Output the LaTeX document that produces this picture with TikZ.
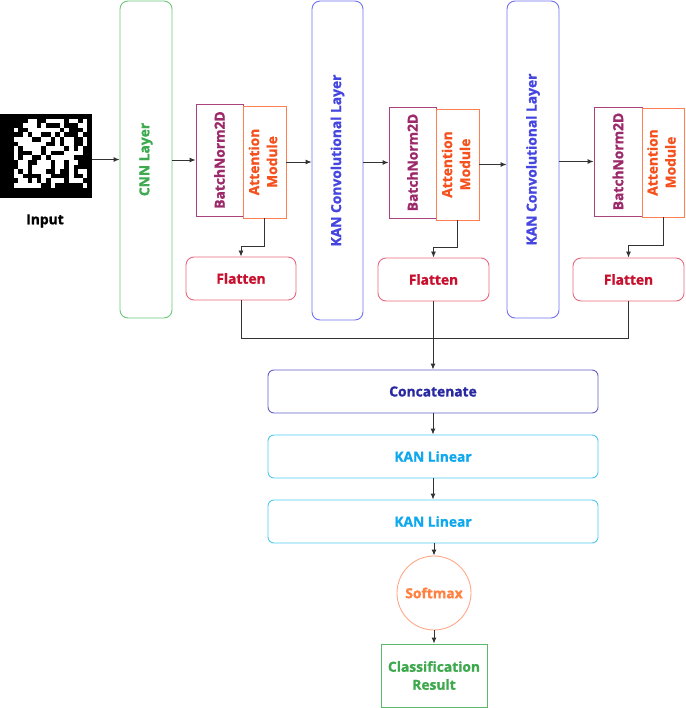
\documentclass[tikz,border=0pt]{standalone}
\usepackage{fontspec}
\setmainfont{Open Sans}[BoldFeatures={FakeBold=1.2}]
\usetikzlibrary{arrows.meta}
\definecolor{cnnB}{HTML}{6CC77A}\definecolor{cnnT}{HTML}{3DAA4F}
\definecolor{bnB}{HTML}{A8437E}\definecolor{bnT}{HTML}{9C2A6B}
\definecolor{atB}{HTML}{FF7F50}\definecolor{atT}{HTML}{F4511E}
\definecolor{flB}{HTML}{E86880}\definecolor{flT}{HTML}{C8102E}
\definecolor{kcB}{HTML}{7070F0}\definecolor{kcT}{HTML}{4545E0}
\definecolor{ccB}{HTML}{6060C8}\definecolor{ccT}{HTML}{2828A0}
\definecolor{klB}{HTML}{50C8F0}\definecolor{klT}{HTML}{10A8EC}
\definecolor{smB}{HTML}{FFA888}\definecolor{smT}{HTML}{FF8040}
\definecolor{crB}{HTML}{5CB86A}\definecolor{crT}{HTML}{3DA84C}
\tikzset{
  box/.style={draw, line width=0.9pt, align=center, inner sep=0pt,
    font=\fontsize{13.8}{18}\selectfont\bfseries},
  arr/.style={-{Latex[length=6pt,width=5pt]}, line width=0.9pt, draw=black!80},
  ln/.style={line width=0.9pt, draw=black!80},
  vbox/.style={box, rounded corners=8pt},
  sqbox/.style={box},
}
\newcommand{\rtxt}[1]{\rotatebox{90}{#1}}
\newcommand{\rtwo}[2]{\rotatebox{90}{\begin{tabular}{@{}c@{}}#1\\#2\end{tabular}}}
\begin{document}
\begin{tikzpicture}[x=1pt,y=-1pt]
\useasboundingbox (0,0) rectangle (685,708);
% input image
\node[inner sep=0pt, minimum width=92pt, minimum height=84pt, fill=black] (img) at (46,156) {};
\pgfmathsetseed{11}
\foreach \i in {3,...,18}{
  \foreach \j in {1,...,15}{
    \pgfmathparse{rnd<0.55 ? 1 : 0}
    \ifnum\pgfmathresult=1
      \fill[white] (\i*4.6,114+\j*4.6) rectangle ++(4.6,4.6);
    \fi
  }
}
\node[font=\fontsize{13.8}{16}\selectfont\bfseries] (inp) at (45,221) {Input};
% columns
\node[vbox, draw=cnnB, text=cnnT, minimum width=52pt, minimum height=317pt] (cnn) at (146,159.5) {\rtxt{CNN Layer}};
\node[sqbox, draw=bnB, text=bnT, minimum width=47pt, minimum height=112pt] (bn1) at (219.5,160) {\rtxt{BatchNorm2D}};
\node[sqbox, draw=atB, text=atT, minimum width=43pt, minimum height=112pt] (at1) at (264.5,162) {\rtwo{Attention}{Module}};
\node[vbox, draw=flB, text=flT, minimum width=110pt, minimum height=43pt] (fl1) at (241,278.5) {Flatten};
\node[vbox, draw=kcB, text=kcT, minimum width=51pt, minimum height=319pt] (kc1) at (337.5,160.5) {\rtxt{KAN Convolutional Layer}};
\node[sqbox, draw=bnB, text=bnT, minimum width=47pt, minimum height=111pt] (bn2) at (412.5,162.5) {\rtxt{BatchNorm2D}};
\node[sqbox, draw=atB, text=atT, minimum width=43pt, minimum height=111pt] (at2) at (457.5,164.5) {\rtwo{Attention}{Module}};
\node[vbox, draw=flB, text=flT, minimum width=111pt, minimum height=43pt] (fl2) at (433.5,279.5) {Flatten};
\node[vbox, draw=kcB, text=kcT, minimum width=52pt, minimum height=317pt] (kc2) at (533,159.5) {\rtxt{KAN Convolutional Layer}};
\node[sqbox, draw=bnB, text=bnT, minimum width=48pt, minimum height=109pt] (bn3) at (618,161.5) {\rtxt{BatchNorm2D}};
\node[sqbox, draw=atB, text=atT, minimum width=42pt, minimum height=109pt] (at3) at (663,162.5) {\rtwo{Attention}{Module}};
\node[vbox, draw=flB, text=flT, minimum width=111pt, minimum height=43pt] (fl3) at (628.5,279.5) {Flatten};
% lower stack
\node[box, rounded corners=6pt, draw=ccB, text=ccT, minimum width=330pt, minimum height=43pt] (cc) at (433,391.5) {Concatenate};
\node[box, rounded corners=6pt, draw=klB, text=klT, minimum width=330pt, minimum height=43pt] (kl1) at (433,456.5) {KAN Linear};
\node[box, rounded corners=6pt, draw=klB, text=klT, minimum width=330pt, minimum height=43pt] (kl2) at (433,521.5) {KAN Linear};
\node[box, circle, draw=smB, text=smT, minimum size=74pt] (sm) at (434,593) {Softmax};
\node[sqbox, draw=crB, text=crT, minimum width=106pt, minimum height=63pt] (cr) at (434,675.5) {Classification\\Result};
% connectors
\draw[arr] (img.east |- cnn.west) -- (cnn.west);
\draw[arr] (cnn.east |- bn1.west) -- (bn1.west);
\draw[arr] (at1.east) -- (at1.east -| kc1.west);
\draw[arr] (kc1.east |- bn2.west) -- (bn2.west);
\draw[arr] (at2.east) -- (at2.east -| kc2.west);
\draw[arr] (kc2.east |- bn3.west) -- (bn3.west);
\draw[arr] (at1.south) -- ++(0,28) -| (fl1.north);
\draw[arr] (at2.south) -- ++(0,27) -| (fl2.north);
\draw[arr] (at3.south) -- ++(0,28) -| (fl3.north);
\coordinate (bus) at (434,338);
\draw[ln] (fl1.south) |- (bus);
\draw[ln] (fl3.south) |- (bus);
\draw[arr] (fl2.south -| cc.north) -- (cc.north);
\draw[arr] (cc.south) -- (kl1.north);
\draw[arr] (kl1.south) -- (kl2.north);
\draw[arr] (kl2.south -| sm.north) -- (sm.north);
\draw[arr] (sm.south) -- (cr.north);
\end{tikzpicture}
\end{document}
